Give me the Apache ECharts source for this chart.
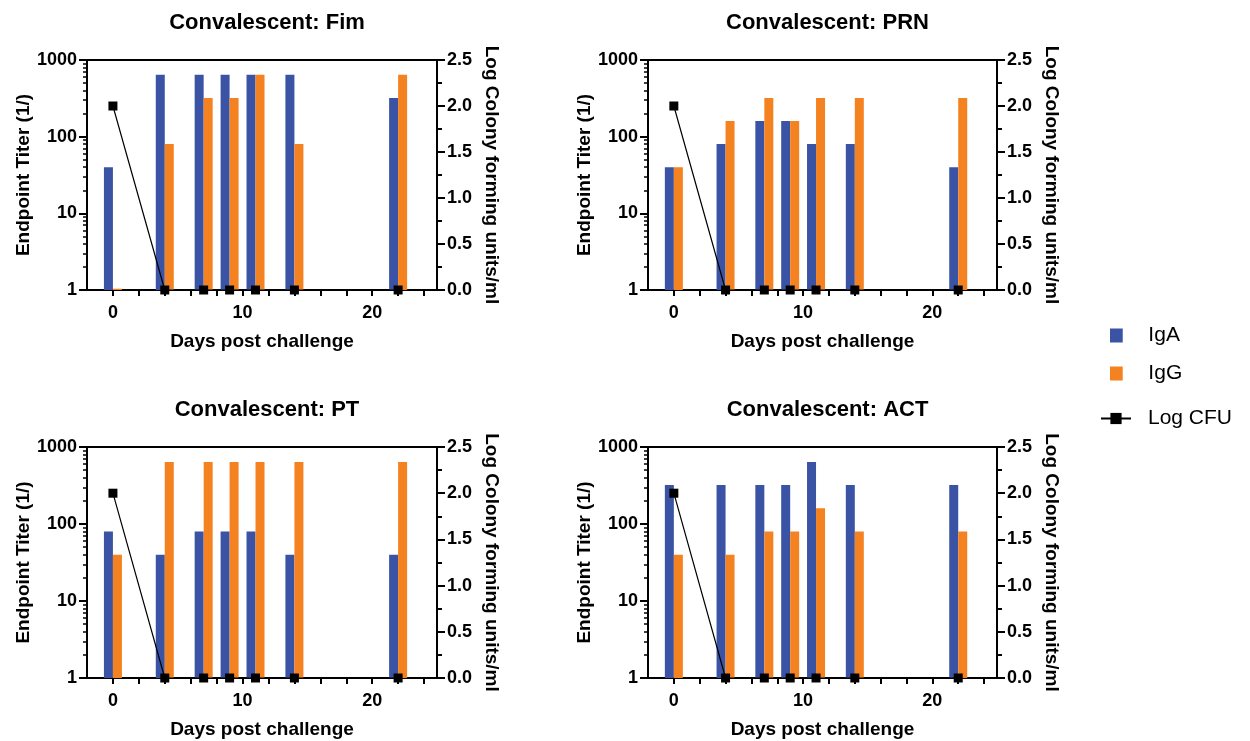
<!DOCTYPE html>
<html>
<head>
<meta charset="utf-8">
<script src="https://cdn.jsdelivr.net/npm/echarts@6/dist/echarts.min.js"></script>
<style>html,body{margin:0;padding:0;background:#fff}#c{width:1250px;height:741px}</style>
</head>
<body>
<div id="c"></div>
<script>
// ---- data ----
const days = [0, 4, 7, 9, 11, 14, 22];
const panelTitles = ['Convalescent: Fim', 'Convalescent: PRN', 'Convalescent: PT', 'Convalescent: ACT'];
const fimIgA = [40, 640, 640, 640, 640, 640, 320];
const fimIgG = [1.04, 80, 320, 320, 640, 80, 640];
const prnIgA = [40, 80, 160, 160, 80, 80, 40];
const prnIgG = [40, 160, 320, 160, 320, 320, 320];
const ptIgA = [80, 40, 80, 80, 80, 40, 40];
const ptIgG = [40, 640, 640, 640, 640, 640, 640];
const actIgA = [320, 320, 320, 320, 640, 320, 320];
const actIgG = [40, 40, 80, 80, 160, 80, 80];
const logCfu = [2.0, 0, 0, 0, 0, 0, 0];
const xLabelTicks = [0, 10, 20];
const xTickValues = [0, 2, 4, 6, 8, 10, 12, 14, 16, 18, 20, 22, 24];
const leftMinorTicks = [2,3,4,5,6,7,8,9,20,30,40,50,60,70,80,90,200,300,400,500,600,700,800,900];

const iga = [fimIgA, prnIgA, ptIgA, actIgA];
const igg = [fimIgG, prnIgG, ptIgG, actIgG];

const BLUE = '#3a53a4';
const ORANGE = '#f58220';
const FONT = '"Liberation Sans", Arial, sans-serif';

const rects = [
  {left: 87, top: 60, width: 350, height: 230},
  {left: 648, top: 60, width: 349, height: 230},
  {left: 87, top: 447, width: 350, height: 231},
  {left: 648, top: 447, width: 349, height: 231}
];

const grid = [], xAxis = [], yAxis = [], series = [], title = [];
const pairs = (arr) => days.map((d, i) => [d, arr[i]]);

rects.forEach((r, i) => {
  grid.push(Object.assign({show: true, borderColor: '#000', borderWidth: 2, backgroundColor: 'transparent'}, r));
  title.push({
    text: panelTitles[i], left: r.left + r.width / 2, top: r.top - 53, textAlign: 'center',
    textStyle: {fontFamily: FONT, fontSize: 22, fontWeight: 'bold', color: '#000'}
  });
  xAxis.push({
    type: 'value', gridIndex: i, min: -2, max: 25,
    name: 'Days post challenge', nameLocation: 'middle', nameGap: 42,
    nameTextStyle: {fontFamily: FONT, fontSize: 19, fontWeight: 'bold', color: '#000'},
    axisLine: {show: true, onZero: false, lineStyle: {color: '#000', width: 2}},
    axisTick: {show: true, length: 6, lineStyle: {color: '#000', width: 2}, customValues: xTickValues},
    axisLabel: {customValues: xLabelTicks, margin: 14, fontFamily: FONT, fontSize: 18, fontWeight: 'bold', color: '#000'},
    splitLine: {show: false}
  });
  yAxis.push({
    type: 'log', logBase: 10, gridIndex: i, min: 1, max: 1000, position: 'left',
    name: 'Endpoint Titer (1/)', nameLocation: 'middle', nameGap: 54, nameRotate: 90,
    nameTextStyle: {fontFamily: FONT, fontSize: 19, fontWeight: 'bold', color: '#000'},
    axisLine: {show: true, onZero: false, lineStyle: {color: '#000', width: 2}},
    axisTick: {show: true, length: 8, lineStyle: {color: '#000', width: 2}},
    axisLabel: {margin: 10, formatter: (v) => String(Math.round(v)), fontFamily: FONT, fontSize: 18, fontWeight: 'bold', color: '#000'},
    splitLine: {show: false}
  });
  yAxis.push({
    type: 'value', gridIndex: i, min: 0, max: 2.5, interval: 0.5, position: 'right',
    name: 'Log Colony forming units/ml', nameLocation: 'middle', nameGap: 45, nameRotate: -90,
    nameTextStyle: {fontFamily: FONT, fontSize: 19, fontWeight: 'bold', color: '#000'},
    axisLine: {show: true, onZero: false, lineStyle: {color: '#000', width: 2}},
    axisTick: {show: true, length: 8, lineStyle: {color: '#000', width: 2}},
    minorTick: {show: true, splitNumber: 2, length: 5, lineStyle: {color: '#000', width: 2}},
    axisLabel: {margin: 10, formatter: (v) => v.toFixed(1), fontFamily: FONT, fontSize: 18, fontWeight: 'bold', color: '#000'},
    splitLine: {show: false}, minorSplitLine: {show: false}
  });
  series.push({
    name: 'IgA', type: 'bar', xAxisIndex: i, yAxisIndex: 2 * i, barWidth: 9, barGap: '0%',
    itemStyle: {color: BLUE}, data: pairs(iga[i]), z: 2
  });
  series.push({
    name: 'IgG', type: 'bar', xAxisIndex: i, yAxisIndex: 2 * i, barWidth: 9, barGap: '0%',
    itemStyle: {color: ORANGE}, data: pairs(igg[i]), z: 2
  });
  series.push({
    name: 'Log CFU', type: 'line', xAxisIndex: i, yAxisIndex: 2 * i + 1,
    symbol: 'rect', symbolSize: 9, showSymbol: true,
    lineStyle: {color: '#000', width: 1.2}, itemStyle: {color: '#000'},
    data: pairs(logCfu), z: 5, clip: false
  });
});

// overlay grids for left-axis log minor ticks
rects.forEach((r, i) => {
  grid.push(Object.assign({show: false}, r));
  xAxis.push({type: 'value', gridIndex: 4 + i, min: 0, max: 1, show: false});
  yAxis.push({
    type: 'value', gridIndex: 4 + i, min: 0, max: 3, position: 'left',
    axisLine: {show: false, onZero: false},
    axisTick: {show: true, length: 4, lineStyle: {color: '#000', width: 1.5},
      customValues: leftMinorTicks.map(v => Math.log10(v))},
    axisLabel: {show: false},
    splitLine: {show: false}
  });
});

const legendText = {fontFamily: FONT, fontSize: 21, color: '#000', padding: [0, 0, 0, 12]};
const chart = echarts.init(document.getElementById('c'), null, {renderer: 'canvas'});
chart.setOption({
  animation: false,
  backgroundColor: '#fff',
  title: title,
  legend: [{
    orient: 'vertical', left: 1105, top: 320, itemWidth: 30, itemHeight: 14, itemGap: 17,
    textStyle: legendText,
    data: [
      {name: 'IgA', icon: 'path://M0,0h10v11h-10z'},
      {name: 'IgG', icon: 'path://M0,0h10v11h-10z'}
    ]
  }, {
    orient: 'vertical', left: 1095, top: 403, itemWidth: 30, itemHeight: 14,
    textStyle: legendText,
    data: [{name: 'Log CFU'}]
  }],
  grid: grid, xAxis: xAxis, yAxis: yAxis, series: series
});
</script>
</body>
</html>
